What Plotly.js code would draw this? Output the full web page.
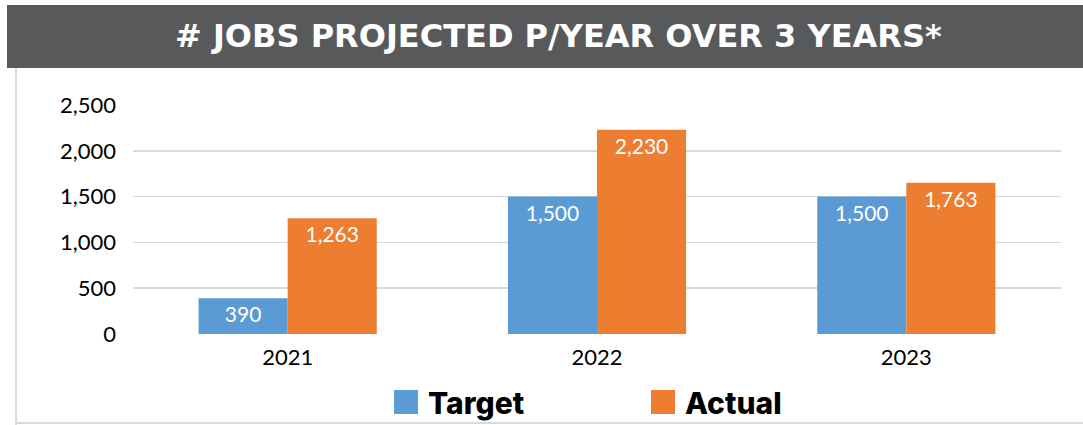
<!DOCTYPE html>
<html>
<head>
<meta charset="utf-8">
<script src="https://cdn.plot.ly/plotly-3.0.1.min.js"></script>
<style>html,body{margin:0;padding:0;background:#fff;}#chart{width:1083px;height:425px;}</style>
</head>
<body>
<div id="chart"></div>
<script>
const categories = ["2021", "2022", "2023"];
const seriesNames = ["Target", "Actual"];
// bar heights as drawn in the picture
const targetValues = [390, 1500, 1500];
const actualValues = [1263, 2230, 1650];
// value labels as printed on the bars
const targetLabels = ["390", "1,500", "1,500"];
const actualLabels = ["1,263", "2,230", "1,763"];
const yTicks = [0, 500, 1000, 1500, 2000, 2500];
const titleText = "# JOBS PROJECTED P/YEAR OVER 3 YEARS*";

const colors = ["#5b9bd5", "#ed7d31"];
const W = 1083, H = 425;
const L = 133, R = 1061, T = 105, B = 334;
const px = x => (x - L) / (R - L);
const py = y => (B - y) / (B - T);

const tickFont = {family: "Lato, 'Open Sans', sans-serif", size: 22, color: "#000"};
const labelFont = {family: "Lato, 'Open Sans', sans-serif", size: 21, color: "#fff"};

const traces = [[targetValues, targetLabels], [actualValues, actualLabels]].map(([vals, labs], i) => ({
  type: "bar",
  name: seriesNames[i],
  x: categories,
  y: vals,
  text: labs,
  texttemplate: "%{text}",
  marker: {color: colors[i], line: {width: 0}},
  textposition: "inside",
  insidetextanchor: "end",
  textangle: 0,
  constraintext: "none",
  textfont: labelFont,
  showlegend: false,
  hoverinfo: "x+text+name"
}));

const shapes = [
  {type: "rect", xref: "paper", yref: "paper", x0: px(7), x1: px(1083), y0: py(68), y1: py(5),
   fillcolor: "#58595b", line: {width: 0}, layer: "below"},
  {type: "line", xref: "paper", yref: "paper", x0: px(16), x1: px(16), y0: py(68), y1: py(425),
   line: {color: "#d9d9d9", width: 2}},
  {type: "line", xref: "paper", yref: "paper", x0: px(16), x1: px(1083), y0: py(423), y1: py(423),
   line: {color: "#d9d9d9", width: 2}}
];
const annotations = [
  {xref: "paper", yref: "paper", x: px(558), y: py(36), xanchor: "center", yanchor: "middle",
   text: titleText, showarrow: false,
   font: {family: "'DejaVu Sans', sans-serif", size: 32, color: "#fff", weight: 700}}
];
const legendX = [394, 651];
seriesNames.forEach((name, i) => {
  shapes.push({type: "rect", xref: "paper", yref: "paper",
    x0: px(legendX[i]), x1: px(legendX[i] + 24), y0: py(414), y1: py(390),
    fillcolor: colors[i], line: {width: 0}});
  annotations.push({xref: "paper", yref: "paper", x: px(legendX[i] + 32), y: py(403),
    xanchor: "left", yanchor: "middle", text: name, showarrow: false,
    font: {family: "Inter, 'Liberation Sans', sans-serif", size: 30, color: "#000", weight: 800}});
});

const layout = {
  width: W, height: H,
  margin: {l: L, r: W - R, t: T, b: H - B, pad: 0},
  paper_bgcolor: "#fff", plot_bgcolor: "#fff",
  barmode: "group", bargap: 0.424, bargroupgap: 0,
  showlegend: false,
  xaxis: {type: "category", tickfont: tickFont, showgrid: false, zeroline: false, showline: false,
          ticks: "", ticklabelstandoff: 8},
  yaxis: {range: [0, 2500], tickvals: yTicks, tickformat: ",", tickfont: tickFont,
          gridcolor: "#d9d9d9", gridwidth: 1.5, zeroline: false, showline: false,
          ticks: "", ticklabelstandoff: 16},
  shapes: shapes,
  annotations: annotations
};

Plotly.newPlot("chart", traces, layout, {displayModeBar: false, staticPlot: true});
</script>
</body>
</html>
